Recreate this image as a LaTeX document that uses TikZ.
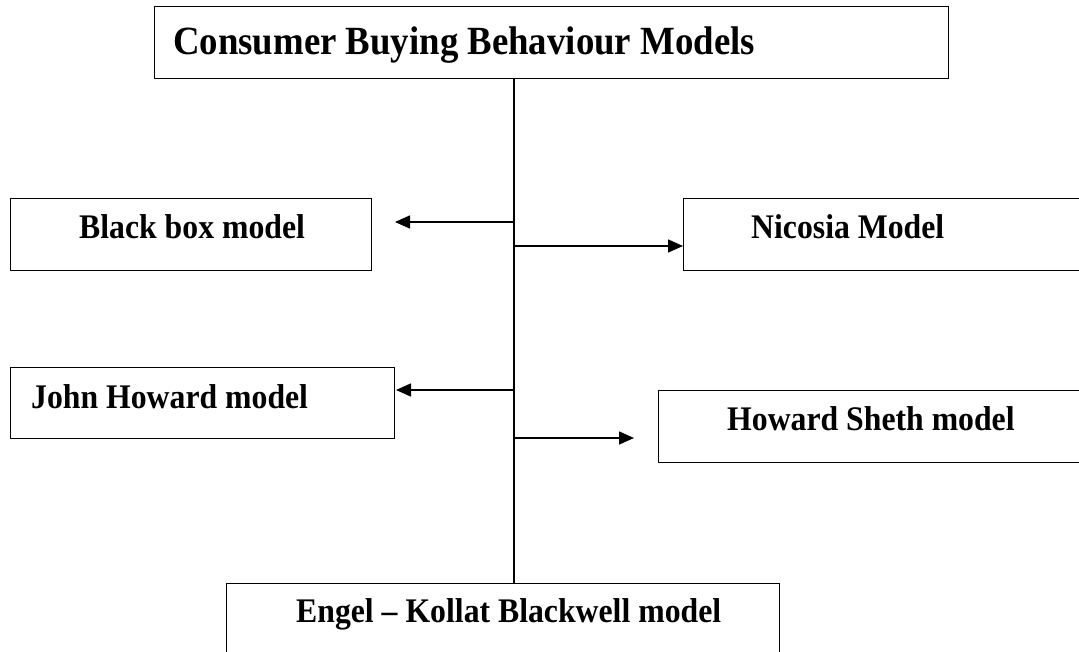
\documentclass[tikz,border=0pt]{standalone}
\usepackage{fontspec}
\setmainfont{Liberation Serif}
\newfontfamily\narrowserif{Liberation Serif}[FakeStretch=0.92]
\usetikzlibrary{arrows.meta}
\begin{document}
\begin{tikzpicture}[x=1pt,y=-1pt,
  box/.style={draw, line width=1.3pt, inner sep=0pt, anchor=north west},
  conn/.style={line width=1.6pt},
  arr/.style={conn, -{Triangle[length=15pt,width=13pt]}},
  lbl/.style={inner sep=0pt, anchor=base west, font=\narrowserif\bfseries\fontsize{34.5}{40}\selectfont},
  ttl/.style={inner sep=0pt, anchor=base west, font=\narrowserif\bfseries\fontsize{40}{46}\selectfont}]
\clip (0,0) rectangle (1079,652);
% boxes
\node[box, minimum width=794pt, minimum height=72pt] (top) at (154,6) {};
\node[box, minimum width=361pt, minimum height=72pt] (bb) at (10,198) {};
\node[box, minimum width=420pt, minimum height=72pt] (nic) at (683,198) {};
\node[box, minimum width=384pt, minimum height=71pt] (jh) at (10,367) {};
\node[box, minimum width=440pt, minimum height=72pt] (hs) at (658,390) {};
\node[box, minimum width=553pt, minimum height=80pt] (ekb) at (226,583) {};
% texts
\node[ttl] (toptxt) at (173,55) {Consumer Buying Behaviour Models};
\node[lbl] (bbtxt) at (79,239) {Black box model};
\node[lbl] (nictxt) at (751,239) {Nicosia Model};
\node[lbl] (jhtxt) at (31,408) {John Howard model};
\node[lbl] (hstxt) at (727,430) {Howard Sheth model};
\node[lbl] (ekbtxt) at (296,622) {Engel – Kollat Blackwell model};
% spine and arrows
\coordinate (spine) at (514,0);
\coordinate (bbtip) at (395,222);
\coordinate (jhtip) at (396,390);
\coordinate (hstip) at (634,438);
\draw[conn] (top.south -| spine) -- (ekb.north -| spine);
\draw[arr] (spine |- bbtip) -- (bbtip);
\draw[arr] (spine |- 0,246) -- (nic.west |- 0,246);
\draw[arr] (spine |- jhtip) -- (jhtip);
\draw[arr] (spine |- hstip) -- (hstip);
\end{tikzpicture}
\end{document}
